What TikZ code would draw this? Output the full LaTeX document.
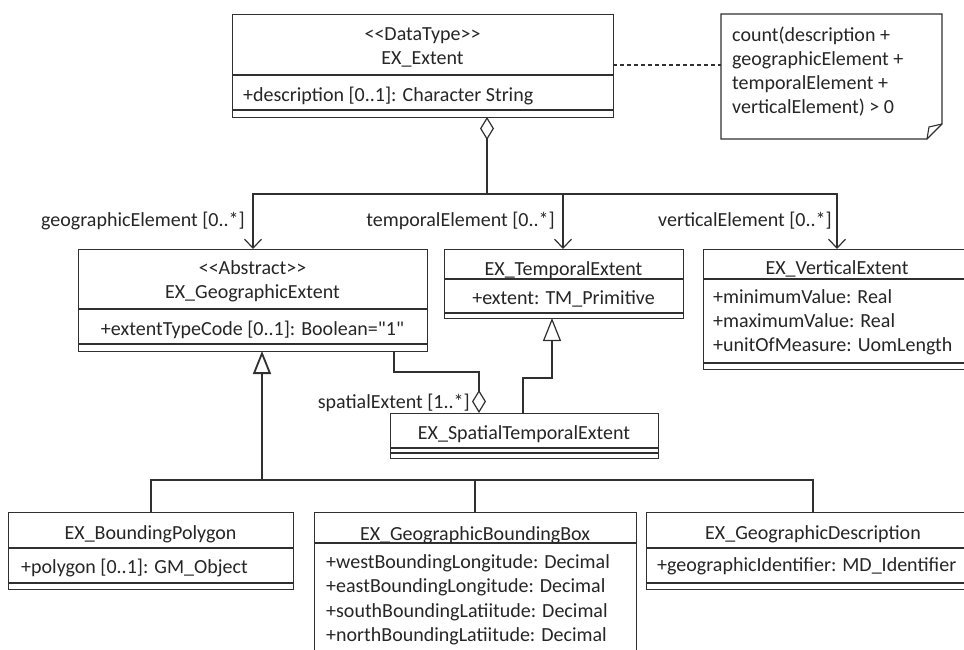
\documentclass[tikz,border=0pt]{standalone}
\usepackage{fontspec}
\setmainfont{Carlito}[Ligatures=TeXOff]
\usetikzlibrary{arrows.meta}
\definecolor{ln}{HTML}{303030}
\definecolor{tx}{HTML}{262626}
\begin{document}
\begin{tikzpicture}[x=1pt,y=-1pt,
  font=\fontsize{20}{24}\selectfont,
  cls/.style={draw=ln, line width=1.3pt, fill=white, inner sep=0pt, anchor=north west},
  sep/.style={draw=ln, line width=1.2pt},
  conn/.style={draw=ln, line width=1.2pt},
  txt/.style={inner sep=0pt, anchor=base, text=tx},
  ltxt/.style={inner sep=0pt, anchor=base west, text=tx},
  rtxt/.style={inner sep=0pt, anchor=base east, text=tx},
  nav/.style={-{Straight Barb[length=9pt,width=17pt]}},
  gen/.style={-{Triangle[open,fill=white,length=23pt,width=18pt]}},
  agg/.style={{Diamond[open,fill=white,length=23pt,width=14pt]}-}]
\useasboundingbox (0,0) rectangle (964,650);
\clip (0,0) rectangle (964,650);

% EX_Extent
\node[cls, minimum width=381pt, minimum height=103pt] (ext) at (232,14) {};
\draw[sep] (232,75) -- (613,75);
\draw[sep] (232,110) -- (613,110);
\node[txt] (extS) at (422.5,41) {<<DataType>>};
\node[txt] (extN) at (422.5,65) {EX\_Extent};
\node[ltxt] (extA) at (243,102) {+description [0..1]: Character String};

% Note
\path[draw=ln, line width=1.2pt, fill=white] (721,14) -- (942,14) -- (942,124) -- (927,139) -- (721,139) -- cycle;
\draw[ln, line width=1.1pt] (942,124) -- (929,127) -- (927,139);
\coordinate (noteW) at (721,65);
\node[ltxt] (n1) at (732,42) {count(description +};
\node[ltxt] (n2) at (732,66) {geographicElement +};
\node[ltxt] (n3) at (732,90) {temporalElement +};
\node[ltxt] (n4) at (732,114) {verticalElement) > 0};
\coordinate (extE) at (613,65);
\draw[conn, dash pattern=on 4pt off 3pt] (extE) -- (noteW);

% EX_GeographicExtent
\node[cls, minimum width=349pt, minimum height=102pt] (geo) at (78,249) {};
\draw[sep] (78,309) -- (427,309);
\draw[sep] (78,344) -- (427,344);
\node[txt] (geoS) at (252.5,274) {<<Abstract>>};
\node[txt] (geoN) at (252.5,298) {EX\_GeographicExtent};
\node[txt] (geoA) at (252.5,335) {+extentTypeCode [0..1]: Boolean="1"};

% EX_TemporalExtent
\node[cls, minimum width=239pt, minimum height=69pt] (tmp) at (444,249) {};
\draw[sep] (444,279) -- (683,279);
\draw[sep] (444,313) -- (683,313);
\node[txt] (tmpN) at (563.5,275) {EX\_TemporalExtent};
\node[txt] (tmpA) at (563.5,304) {+extent: TM\_Primitive};

% EX_VerticalExtent
\node[cls, minimum width=270pt, minimum height=120pt] (ver) at (703,249) {};
\draw[sep] (703,279) -- (973,279);
\draw[sep] (703,363) -- (973,363);
\node[txt] (verN) at (837,274) {EX\_VerticalExtent};
\node[ltxt] (verA1) at (713,303) {+minimumValue: Real};
\node[ltxt] (verA2) at (713,327) {+maximumValue: Real};
\node[ltxt] (verA3) at (713,351) {+unitOfMeasure: UomLength};

% EX_SpatialTemporalExtent
\node[cls, minimum width=268pt, minimum height=45pt] (spt) at (390,413) {};
\draw[sep] (390,448) -- (658,448);
\draw[sep] (390,453) -- (658,453);
\node[txt] (sptN) at (524,439) {EX\_SpatialTemporalExtent};

% EX_BoundingPolygon
\node[cls, minimum width=285pt, minimum height=77pt] (bp) at (8,512) {};
\draw[sep] (8,548) -- (293,548);
\draw[sep] (8,583) -- (293,583);
\node[txt] (bpN) at (150.5,539) {EX\_BoundingPolygon};
\node[ltxt] (bpA) at (21,573) {+polygon [0..1]: GM\_Object};

% EX_GeographicBoundingBox
\node[cls, minimum width=322pt, minimum height=160pt] (gbb) at (314,512) {};
\draw[sep] (314,543) -- (636,543);
\node[txt] (gbbN) at (475,540) {EX\_GeographicBoundingBox};
\node[ltxt] (gbbA1) at (326,568) {+westBoundingLongitude: Decimal};
\node[ltxt] (gbbA2) at (326,592) {+eastBoundingLongitude: Decimal};
\node[ltxt] (gbbA3) at (326,617) {+southBoundingLatiitude: Decimal};
\node[ltxt] (gbbA4) at (326,641) {+northBoundingLatiitude: Decimal};

% EX_GeographicDescription
\node[cls, minimum width=327pt, minimum height=77pt] (gd) at (646,512) {};
\draw[sep] (646,548) -- (973,548);
\draw[sep] (646,583) -- (973,583);
\node[txt] (gdN) at (813,539) {EX\_GeographicDescription};
\node[ltxt] (gdA) at (657,571) {+geographicIdentifier: MD\_Identifier};

% connection points
\coordinate (aggTop) at (487,117);
\coordinate (j) at (487,194);
\coordinate (geoIn) at (253,249);
\coordinate (tmpIn) at (563,249);
\coordinate (verIn) at (837,249);
\coordinate (geoOut) at (394,351);
\coordinate (sptAgg) at (479,413);
\coordinate (sptGen) at (523,413);
\coordinate (tmpOut) at (552,318);
\coordinate (geoGen) at (262,351);
\coordinate (jb) at (262,480);
\coordinate (bpIn) at (151,512);
\coordinate (gbbIn) at (475,512);
\coordinate (gdIn) at (813,512);

% associations from EX_Extent
\draw[conn, agg] (aggTop) -- (j);
\draw[conn, nav] (j) -| (geoIn);
\draw[conn, nav] (j) -| (tmpIn);
\draw[conn, nav] (j) -| (verIn);
\node[rtxt] (lGeo) at (245,226) {geographicElement [0..*]};
\node[rtxt] (lTmp) at (555,226) {temporalElement [0..*]};
\node[rtxt] (lVer) at (832,226) {verticalElement [0..*]};

% spatialExtent aggregation
\draw[conn, agg] (sptAgg) -- ++(0,-41) -| (geoOut);
\node[rtxt] (lSp) at (470,408) {spatialExtent [1..*]};

% generalizations
\draw[conn, gen] (sptGen) -- ++(0,-35) -| (tmpOut);
\draw[conn, gen, line width=1.8pt] (jb) -- (geoGen);
\draw[conn] (jb) -| (bpIn);
\draw[conn] (jb) -| (gbbIn);
\draw[conn] (jb) -| (gdIn);
\end{tikzpicture}
\end{document}
